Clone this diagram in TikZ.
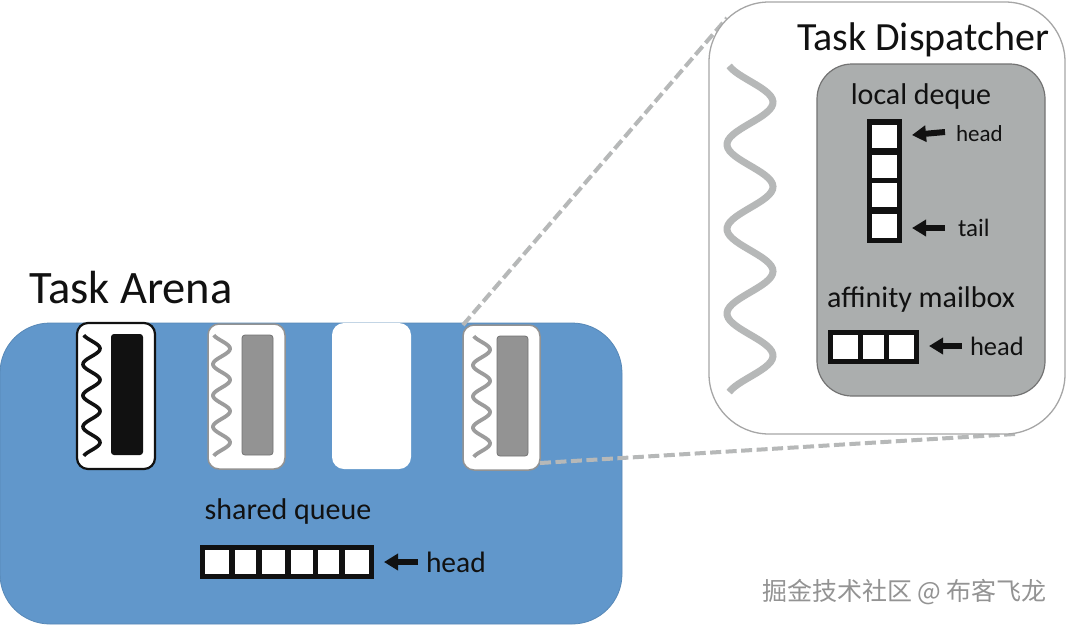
\documentclass[tikz,border=0pt]{standalone}
\usepackage{fontspec}
\setmainfont{Carlito}
\newfontfamily\cjkwm{Noto Sans CJK SC}
\usetikzlibrary{arrows.meta}
\definecolor{arenablue}{HTML}{6197CB}
\definecolor{panelgrey}{HTML}{ABAEAE}
\definecolor{slotgrey}{HTML}{939393}
\definecolor{wavegrey}{HTML}{9C9C9C}
\definecolor{bigwave}{HTML}{B6B8B8}
\definecolor{ink}{HTML}{111111}
\newcommand{\boxat}[6]{% name, style, x0, y0, x1, y1
  \pgfmathsetmacro{\bw}{#5-#3}\pgfmathsetmacro{\bh}{#6-#4}
  \node[#2,anchor=north west,minimum width=\bw pt,minimum height=\bh pt] (#1) at (#3,#4) {};}
\newcommand{\wavy}[5]{% xleft, xright, ytop, ybot, style
  \pgfmathsetmacro{\xc}{(#1+#2)/2}\pgfmathsetmacro{\xa}{(#2-#1)/2}
  \draw[#5] plot[domain=25:1415,samples=120] ({\xc-\xa*cos(\x)},{#3+(#4-#3)*(\x/1440)});}
\tikzset{
  x=1pt,y=-1pt,
  plain/.style={inner sep=0pt,outer sep=0pt},
  arena/.style={plain,fill=arenablue,draw=arenablue!90!black,line width=0.8pt,rounded corners=50pt},
  slotbox/.style={plain,fill=white,draw=gray!85,line width=1.5pt,rounded corners=11pt},
  slotblack/.style={slotbox,draw=ink,line width=2.2pt},
  slotfree/.style={plain,fill=white,rounded corners=12pt},
  innergrey/.style={plain,fill=slotgrey,draw=gray!90!black,line width=0.8pt,rounded corners=3pt},
  innerblack/.style={plain,fill=ink,rounded corners=3pt},
  dispatcher/.style={plain,fill=white,draw=gray!70,line width=1.3pt,rounded corners=60pt},
  panel/.style={plain,fill=panelgrey,draw=gray!90!black,line width=1.2pt,rounded corners=35pt},
  queuebody/.style={plain,fill=ink},
  cell/.style={plain,fill=white},
  lab/.style={inner sep=0pt,outer sep=0pt,text=ink},
  ptr/.style={-{Triangle[length=14pt,width=16pt]},line width=6pt,draw=ink},
  zoomline/.style={draw=bigwave,line width=4pt,dash pattern=on 11pt off 4.5pt},
  smallwaveblack/.style={draw=ink,line width=3.6pt},
  smallwavegrey/.style={draw=wavegrey,line width=3.8pt},
  largewave/.style={draw=bigwave,line width=7pt}
}
\begin{document}
\begin{tikzpicture}
\useasboundingbox (0,0) rectangle (1067,625);
\fill[white] (0,0) rectangle (1067,625);

% arena
\boxat{arena}{arena}{0}{323}{622}{624}
\boxat{slotA}{slotblack}{77}{323}{155}{469}
\boxat{slotB}{slotbox}{208}{324}{285}{469}
\boxat{slotC}{slotfree}{332}{323}{411}{469}
\boxat{slotD}{slotbox}{463}{325}{540}{470}

\boxat{innerA}{innerblack}{111}{334}{143}{455}
\boxat{innerB}{innergrey}{242}{335}{273}{455}
\boxat{innerD}{innergrey}{497}{336}{528}{456}
\wavy{83}{100}{333}{458}{smallwaveblack}
\wavy{213}{230}{333}{458}{smallwavegrey}
\wavy{473}{490}{334}{459}{smallwavegrey}

\node[lab,font=\fontsize{46.5}{46.5}\selectfont,anchor=base west] (arenatitle) at (29,303) {Task Arena};
\node[lab,font=\fontsize{30}{30}\selectfont,anchor=base] (sharedlabel) at (288,519) {shared queue};

% shared queue
\boxat{shared}{queuebody}{200}{545}{374}{579}
\boxat{sq1}{cell}{205}{550}{229}{574}
\boxat{sq2}{cell}{235}{550}{256}{574}
\boxat{sq3}{cell}{262}{550}{285}{574}
\boxat{sq4}{cell}{291}{550}{312.5}{574}
\boxat{sq5}{cell}{318}{550}{338.5}{574}
\boxat{sq6}{cell}{345}{550}{368.5}{574}
\node[lab,font=\fontsize{29.5}{29.5}\selectfont,anchor=base west] (sharedhead) at (426,572) {head};
\coordinate (sharedptr) at (418,562);
\coordinate (sharedtip) at (384,562);
\draw[ptr] (sharedptr) -- (sharedtip);

% dispatcher
\coordinate (zoomtop) at (727,18);
\coordinate (zoombot) at (1015,434);
\coordinate (slotDside) at (540,463);
\draw[zoomline] (slotD.north west) -- (zoomtop);
\draw[zoomline] (slotDside) -- (zoombot);
\boxat{disp}{dispatcher}{709}{2}{1065}{434}
\node[lab,font=\fontsize{40}{40}\selectfont,anchor=base west] (disptitle) at (797,50) {Task Dispatcher};
\wavy{727}{773}{60}{398}{largewave}
\boxat{localpanel}{panel}{817}{64}{1045}{396}
\node[lab,font=\fontsize{30}{30}\selectfont,anchor=base] (localdeque) at (921,104) {local deque};

\boxat{deque}{queuebody}{867}{119}{902}{243}
\boxat{dq1}{cell}{872}{125}{897}{148}
\boxat{dq2}{cell}{872}{155}{897}{178}
\boxat{dq3}{cell}{872}{183}{897}{207}
\boxat{dq4}{cell}{872}{214}{897}{238}
\coordinate (headptr) at (945,132);
\coordinate (headtip) at (912,135);
\draw[ptr] (headptr) -- (headtip);
\coordinate (tailptr) at (945,228);
\coordinate (tailtip) at (912,228);
\draw[ptr] (tailptr) -- (tailtip);
\node[lab,font=\fontsize{23}{23}\selectfont,anchor=base west] (dqhead) at (956,141) {head};
\node[lab,font=\fontsize{25}{25}\selectfont,anchor=base west] (dqtail) at (958,236) {tail};

\node[lab,font=\fontsize{30}{30}\selectfont,anchor=base] (mailboxlabel) at (921,307) {affinity mailbox};
\boxat{mailbox}{queuebody}{828}{330}{919}{364}
\boxat{mb1}{cell}{833}{335}{858}{359}
\boxat{mb2}{cell}{863}{335}{884}{359}
\boxat{mb3}{cell}{889}{335}{914}{359}
\coordinate (mbptr) at (962,346);
\coordinate (mbtip) at (929,346);
\draw[ptr] (mbptr) -- (mbtip);
\node[lab,font=\fontsize{26.5}{26.5}\selectfont,anchor=base west] (mbhead) at (970,355) {head};

% watermark
\node[lab,text=gray!85,font=\cjkwm\fontsize{25}{25}\selectfont,anchor=base west] (wm) at (762,600) {掘金技术社区 @ 布客飞龙};
\end{tikzpicture}
\end{document}
